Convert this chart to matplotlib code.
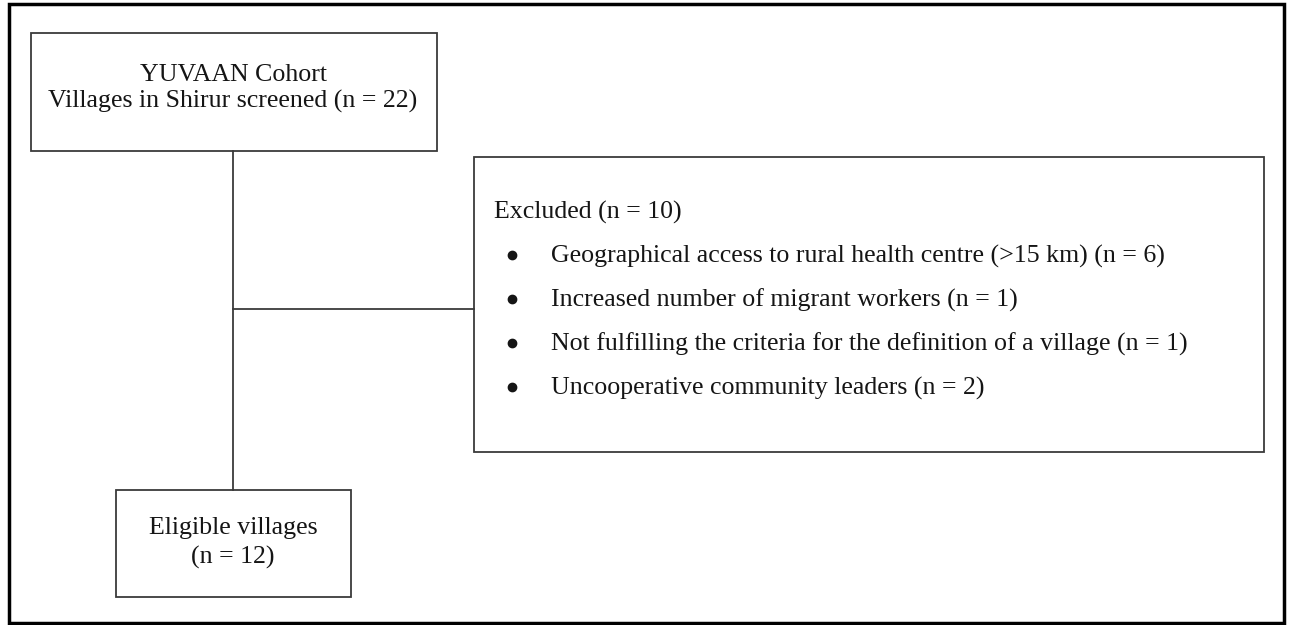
import matplotlib.pyplot as plt
from matplotlib.patches import Rectangle

plt.rcParams['font.family'] = ['Liberation Serif', 'DejaVu Serif']

top_lines = ["YUVAAN Cohort", "Villages in Shirur screened (n = 22)"]
bottom_lines = ["Eligible villages", "(n = 12)"]
excluded_title = "Excluded (n = 10)"
excluded_items = [
    "Geographical access to rural health centre (>15 km) (n = 6)",
    "Increased number of migrant workers (n = 1)",
    "Not fulfilling the criteria for the definition of a village (n = 1)",
    "Uncooperative community leaders (n = 2)",
]

fig = plt.figure(figsize=(12.9, 6.25), dpi=100)
ax = fig.add_axes([0, 0, 1, 1])
ax.set_xlim(0, 1290)
ax.set_ylim(625, 0)
ax.axis('off')

edge = '#3a3a3a'
txt = '#151515'
fs = 18.6

# outer frame
ax.add_patch(Rectangle((9, 4), 1275, 619, fill=False, ec='black', lw=2.5))

# boxes
ax.add_patch(Rectangle((31, 33), 406, 118, fill=False, ec=edge, lw=1.3))
ax.add_patch(Rectangle((474, 157), 790, 295, fill=False, ec=edge, lw=1.3))
ax.add_patch(Rectangle((116, 490), 235, 107, fill=False, ec=edge, lw=1.3))

# connectors
ax.plot([233, 233], [151, 490], color=edge, lw=1.3)
ax.plot([233, 474], [309, 309], color=edge, lw=1.3)

ax.text(233, 81, top_lines[0], ha='center', va='baseline', fontsize=fs, color=txt)
ax.text(233, 108, top_lines[1], ha='center', va='baseline', fontsize=fs, color=txt)

ax.text(233, 534, bottom_lines[0], ha='center', va='baseline', fontsize=fs, color=txt)
ax.text(233, 564, bottom_lines[1], ha='center', va='baseline', fontsize=fs, color=txt)

ax.text(494, 219, excluded_title, ha='left', va='baseline', fontsize=fs, color=txt)
baselines = [263, 307, 351, 395]
for y, item in zip(baselines, excluded_items):
    ax.plot(512, y - 8, 'o', color=txt, ms=6)
    ax.text(551, y, item, ha='left', va='baseline', fontsize=fs, color=txt)

fig.savefig('out.png', dpi=100)
